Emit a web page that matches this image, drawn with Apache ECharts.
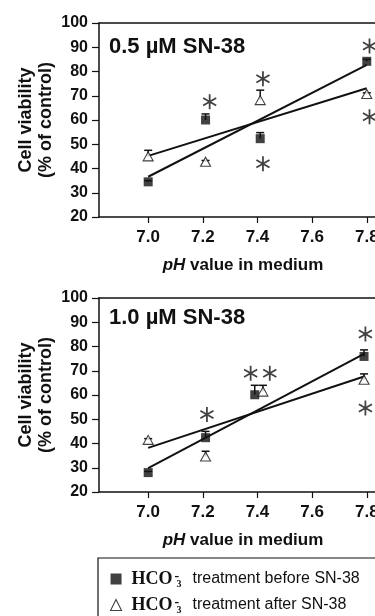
<!DOCTYPE html>
<html>
<head>
<meta charset="utf-8">
<script src="https://cdn.jsdelivr.net/npm/echarts@6/dist/echarts.min.js"></script>
<style>
  html, body { margin: 0; padding: 0; background: #fff; }
  #chart { width: 375px; height: 616px; }
</style>
</head>
<body>
<div id="chart"></div>
<script>
// x tick labels (pH)
const phTicks = [7.0, 7.2, 7.4, 7.6, 7.8]

// 0.5 uM SN-38 panel
const before05X = [7.0, 7.21, 7.41, 7.8]
const before05Y = [34.5, 60, 52.3, 84.2]
const before05Top = [35, 62.5, 54.8, 85]
const after05X = [7.0, 7.21, 7.41, 7.8]
const after05Y = [45, 42.8, 68.2, 70.7]
const after05Top = [47.5, 43.3, 72.3, 71.2]
const fitBefore05 = [[7.0, 36.6], [7.8, 82.7]]
const fitAfter05 = [[7.0, 45.2], [7.8, 73.1]]
const stars05 = [[7.225, 67.5], [7.42, 77], [7.42, 42], [7.81, 90.5], [7.81, 61.3]]

// 1.0 uM SN-38 panel
const before10X = [7.0, 7.21, 7.39, 7.79]
const before10Y = [28, 42.4, 60.1, 75.9]
const before10Top = [28.5, 45, 64, 78.6]
const after10X = [7.0, 7.21, 7.42, 7.79]
const after10Y = [41.5, 34.6, 61.4, 66.3]
const after10Top = [42, 36.8, 64, 68.7]
const fitBefore10 = [[7.0, 29.8], [7.79, 77]]
const fitAfter10 = [[7.0, 38.2], [7.79, 67.6]]
const stars10 = [[7.215, 52], [7.375, 69], [7.445, 69], [7.795, 85.2], [7.795, 54.6]]

const FONT = '"Liberation Sans", Arial, sans-serif'
const SERIF = '"Liberation Serif", "Times New Roman", serif'
const INK = '#111'

// six-armed asterisk as a filled path
const STAR = 'path://M-0.7,-6L-0.7,6L0.7,6L0.7,-6Z' +
  'M-5.546,-2.394L4.846,3.606L5.546,2.394L-4.846,-3.606Z' +
  'M-4.846,3.606L5.546,-2.394L4.846,-3.606L-5.546,2.394Z'

const zip = (xs, ys) => xs.map((x, i) => [x, ys[i]])
const zip3 = (xs, ys, ts) => xs.map((x, i) => [x, ys[i], ts[i]])

const chart = echarts.init(document.getElementById('chart'), null, { renderer: 'canvas' })

// the plots run past the right edge, as in the source figure
const grids = [
  { left: 99, top: 23, height: 194, width: 288, outerBoundsMode: 'none', containLabel: false },
  { left: 99, top: 298, height: 194, width: 288, outerBoundsMode: 'none', containLabel: false }
]

const xAxisFor = (gi) => ({
  gridIndex: gi,
  type: 'value',
  min: 6.82,
  max: 7.874,
  name: '{i|pH} value in medium',
  nameLocation: 'middle',
  nameGap: 40,
  nameMoveOverlap: false,
  nameTextStyle: {
    fontFamily: FONT, fontSize: 17, fontWeight: 'bold', color: INK,
    rich: { i: { fontFamily: FONT, fontSize: 17, fontWeight: 'bold', fontStyle: 'italic', color: INK } }
  },
  splitLine: { show: false },
  axisLine: { onZero: false, lineStyle: { color: INK, width: 1.5 } },
  axisTick: { customValues: phTicks, length: 6, lineStyle: { color: INK, width: 1.2 } },
  axisLabel: {
    customValues: phTicks,
    formatter: (v) => v.toFixed(1),
    fontFamily: FONT, fontSize: 17, fontWeight: 'bold', color: INK, margin: 12,
    hideOverlap: false
  }
})

const topAxisFor = (gi) => ({
  gridIndex: gi,
  type: 'value',
  position: 'top',
  min: 6.82,
  max: 7.874,
  axisLine: { show: true, onZero: false, lineStyle: { color: INK, width: 1.5 } },
  axisTick: { show: false },
  axisLabel: { show: false },
  splitLine: { show: false }
})

const yAxisFor = (gi) => ({
  gridIndex: gi,
  type: 'value',
  min: 20,
  max: 100,
  interval: 10,
  name: 'Cell viability\n(% of control)',
  nameLocation: 'middle',
  nameGap: 43,
  nameMoveOverlap: false,
  nameTextStyle: { fontFamily: FONT, fontSize: 18, fontWeight: 'bold', color: INK, lineHeight: 20 },
  splitLine: { show: false },
  axisLine: { show: true, lineStyle: { color: INK, width: 1.5 } },
  axisTick: { show: true, length: 7, lineStyle: { color: INK, width: 1.2 } },
  axisLabel: { fontFamily: FONT, fontSize: 16, fontWeight: 'bold', color: INK, margin: 11 }
})

const errBars = (data, xi, yi) => ({
  type: 'custom',
  xAxisIndex: xi,
  yAxisIndex: yi,
  z: 3,
  silent: true,
  encode: { x: 0, y: [1, 2] },
  data,
  renderItem: (params, api) => {
    const p0 = api.coord([api.value(0), api.value(1)])
    const p1 = api.coord([api.value(0), api.value(2)])
    const st = { stroke: INK, lineWidth: 1.5 }
    return {
      type: 'group',
      children: [
        { type: 'line', shape: { x1: p0[0], y1: p0[1], x2: p1[0], y2: p1[1] }, style: st },
        { type: 'line', shape: { x1: p1[0] - 4, y1: p1[1], x2: p1[0] + 4, y2: p1[1] }, style: st }
      ]
    }
  }
})

const fitLine = (data, xi, yi) => ({
  type: 'line',
  xAxisIndex: xi,
  yAxisIndex: yi,
  data,
  symbol: 'none',
  silent: true,
  z: 2,
  lineStyle: { color: INK, width: 2 }
})

const squares = (name, data, xi, yi) => ({
  name,
  type: 'scatter',
  xAxisIndex: xi,
  yAxisIndex: yi,
  data,
  symbol: 'rect',
  symbolSize: 9,
  z: 5,
  itemStyle: { color: INK }
})

const triangles = (name, data, xi, yi) => ({
  name,
  type: 'scatter',
  xAxisIndex: xi,
  yAxisIndex: yi,
  data,
  symbol: 'triangle',
  symbolSize: [10, 9],
  z: 5,
  itemStyle: { color: '#fff', borderColor: INK, borderWidth: 1.1 }
})

const stars = (data, xi, yi) => ({
  type: 'scatter',
  xAxisIndex: xi,
  yAxisIndex: yi,
  data,
  symbol: STAR,
  symbolSize: [14, 15],
  z: 6,
  silent: true,
  itemStyle: { color: INK }
})

const BEFORE = 'before'
const AFTER = 'after'

const option = {
  backgroundColor: '#fff',
  animation: false,
  title: [
    { text: '0.5 µM SN-38', left: 109, top: 36, padding: 0,
      textStyle: { fontFamily: FONT, fontSize: 22, fontWeight: 'bold', color: INK } },
    { text: '1.0 µM SN-38', left: 109, top: 307, padding: 0,
      textStyle: { fontFamily: FONT, fontSize: 22, fontWeight: 'bold', color: INK } }
  ],
  grid: grids,
  xAxis: [xAxisFor(0), xAxisFor(1), topAxisFor(0), topAxisFor(1)],
  yAxis: [yAxisFor(0), yAxisFor(1)],
  legend: {
    data: [
      { name: BEFORE, icon: 'rect', itemStyle: { color: INK } },
      { name: AFTER, icon: 'triangle', itemStyle: { color: '#fff', borderColor: INK, borderWidth: 1.1 } }
    ],
    orient: 'vertical',
    left: 98,
    top: 558,
    width: 320,
    height: 120,
    padding: [11, 40, 30, 12],
    itemGap: 6,
    itemWidth: 11,
    itemHeight: 11,
    borderColor: INK,
    borderWidth: 1.2,
    selectedMode: false,
    formatter: (n) => '{h|HCO}{sup|-}{sub|3}{gap|}{t|treatment ' + n + ' SN-38}',
    textStyle: {
      rich: {
        h: { fontFamily: SERIF, fontSize: 18, fontWeight: 'bold', color: INK, padding: [0, 0, 0, 5] },
        sup: { fontFamily: SERIF, fontSize: 14, fontWeight: 'bold', color: INK, width: 0, verticalAlign: 'top', padding: [0, 0, 2, 2] },
        sub: { fontFamily: SERIF, fontSize: 10, fontWeight: 'bold', color: INK, verticalAlign: 'bottom', padding: [10, 0, 0, 2] },
        gap: { width: 11 },
        t: { fontFamily: FONT, fontSize: 16, color: INK }
      }
    }
  },
  series: [
    fitLine(fitBefore05, 0, 0),
    fitLine(fitAfter05, 0, 0),
    errBars(zip3(before05X, before05Y, before05Top), 0, 0),
    errBars(zip3(after05X, after05Y, after05Top), 0, 0),
    squares(BEFORE, zip(before05X, before05Y), 0, 0),
    triangles(AFTER, zip(after05X, after05Y), 0, 0),
    stars(stars05, 0, 0),

    fitLine(fitBefore10, 1, 1),
    fitLine(fitAfter10, 1, 1),
    errBars(zip3(before10X, before10Y, before10Top), 1, 1),
    errBars(zip3(after10X, after10Y, after10Top), 1, 1),
    squares(BEFORE, zip(before10X, before10Y), 1, 1),
    triangles(AFTER, zip(after10X, after10Y), 1, 1),
    stars(stars10, 1, 1)
  ]
}

chart.setOption(option)
</script>
</body>
</html>
